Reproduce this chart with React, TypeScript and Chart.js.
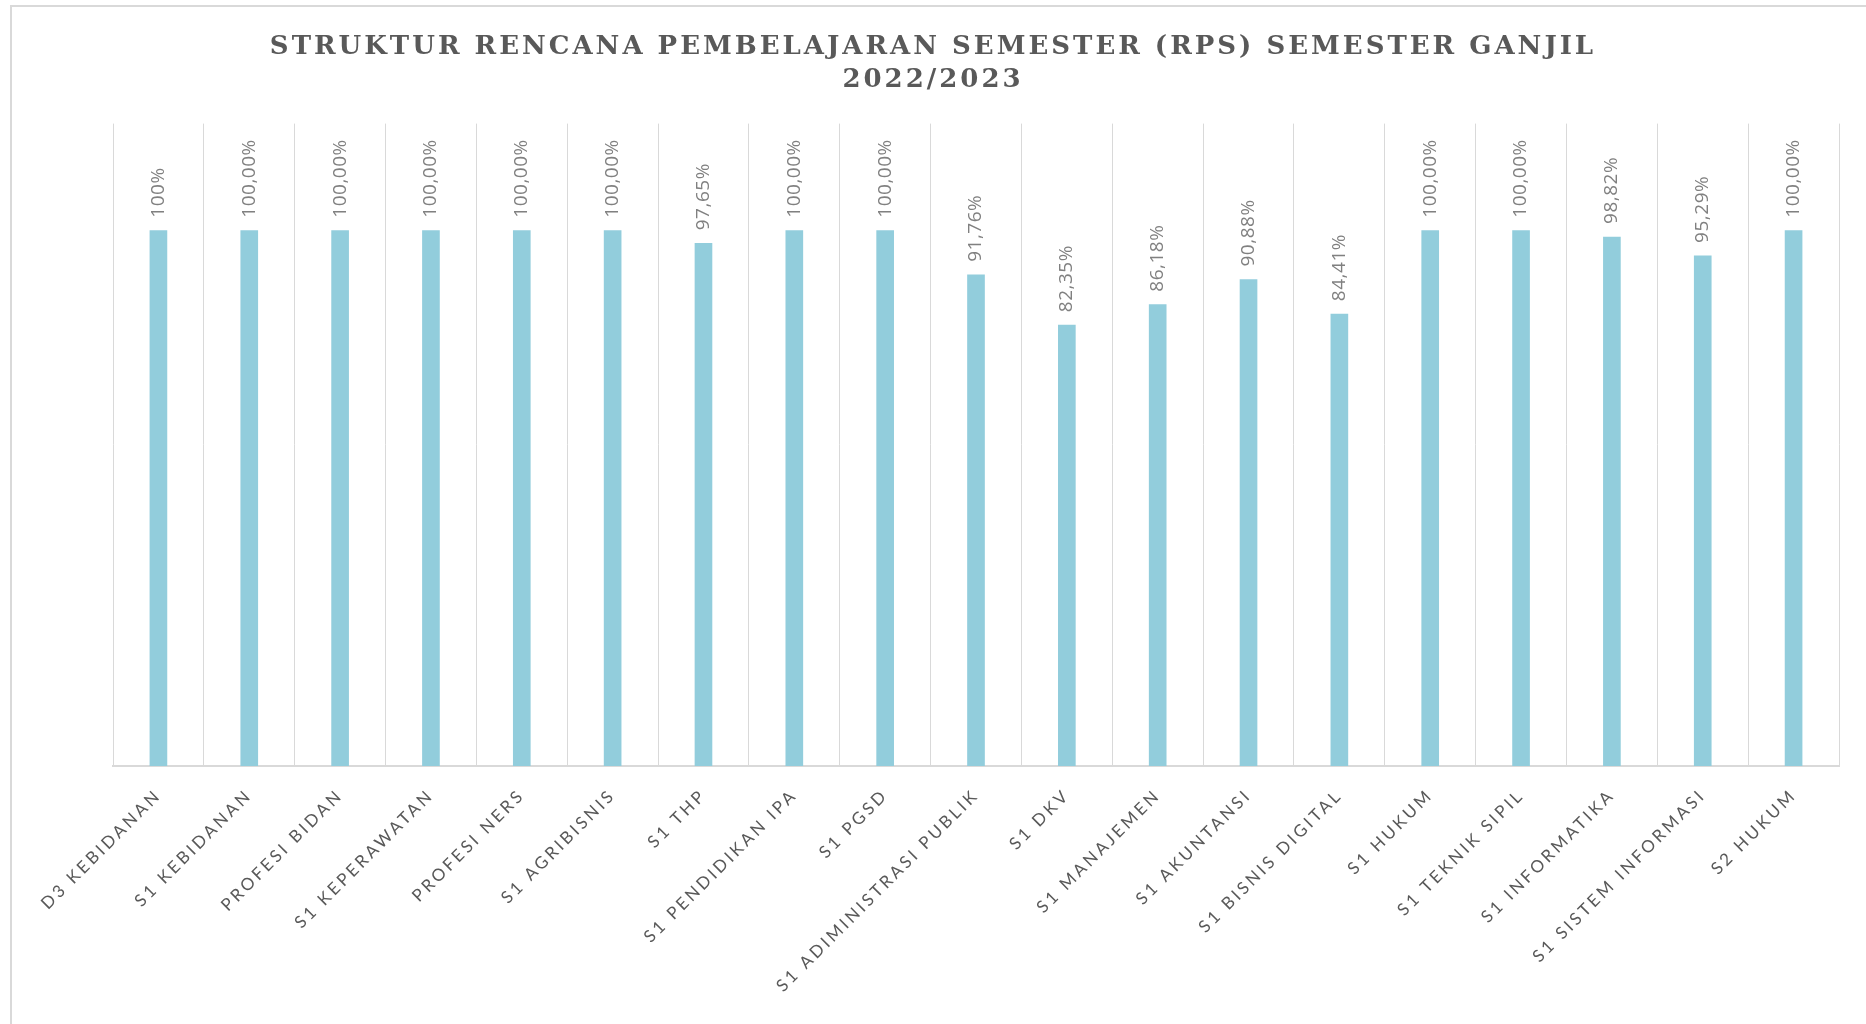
import React, { useEffect, useRef } from "react";
import { Chart, registerables } from "chart.js";

Chart.register(...registerables);

const titleLines = ["STRUKTUR RENCANA PEMBELAJARAN SEMESTER (RPS) SEMESTER GANJIL", "2022/2023"];

const categories = [
  "D3 KEBIDANAN",
  "S1 KEBIDANAN",
  "PROFESI BIDAN",
  "S1 KEPERAWATAN",
  "PROFESI NERS",
  "S1 AGRIBISNIS",
  "S1 THP",
  "S1 PENDIDIKAN IPA",
  "S1 PGSD",
  "S1 ADIMINISTRASI PUBLIK",
  "S1 DKV",
  "S1 MANAJEMEN",
  "S1 AKUNTANSI",
  "S1 BISNIS DIGITAL",
  "S1 HUKUM",
  "S1 TEKNIK SIPIL",
  "S1 INFORMATIKA",
  "S1 SISTEM INFORMASI",
  "S2 HUKUM",
];

const values = [100, 100, 100, 100, 100, 100, 97.65, 100, 100, 91.76, 82.35, 86.18, 90.88, 84.41, 100, 100, 98.82, 95.29, 100];

const valueLabels = [
  "100%",
  "100,00%",
  "100,00%",
  "100,00%",
  "100,00%",
  "100,00%",
  "97,65%",
  "100,00%",
  "100,00%",
  "91,76%",
  "82,35%",
  "86,18%",
  "90,88%",
  "84,41%",
  "100,00%",
  "100,00%",
  "98,82%",
  "95,29%",
  "100,00%",
];

const yMin = 0;
const yMax = 120;

export default function App() {
  const ref = useRef<HTMLCanvasElement>(null);

  useEffect(() => {
    let chart: Chart | null = null;
    let cancelled = false;
    const canvas = ref.current!;

    const spacingPlugin = {
      id: "spacingAndLabels",
      beforeDraw(c: any) {
        c.ctx.letterSpacing = "3px";
      },
      afterDatasetsDraw(c: any) {
        const ctx = c.ctx as any;
        ctx.save();
        ctx.letterSpacing = "0.5px";
        ctx.font = '19px "Open Sans"';
        ctx.fillStyle = "#808080";
        ctx.textAlign = "left";
        ctx.textBaseline = "middle";
        const meta = c.getDatasetMeta(0);
        meta.data.forEach((bar: any, i: number) => {
          ctx.save();
          ctx.translate(bar.x, bar.y - 13);
          ctx.rotate(-Math.PI / 2);
          ctx.fillText(valueLabels[i], 0, 0);
          ctx.restore();
        });
        ctx.restore();
        ctx.letterSpacing = "5.5px";
      },
      afterDraw(c: any) {
        c.ctx.letterSpacing = "0px";
      },
    };

    const make = () => {
      if (cancelled) return;
      chart = new Chart(canvas, {
        type: "bar",
        data: {
          labels: categories,
          datasets: [
            {
              data: values,
              backgroundColor: "#92cddc",
              barThickness: 17,
            },
          ],
        },
        options: {
          responsive: false,
          animation: false,
          devicePixelRatio: 1,
          layout: { padding: 0 },
          plugins: {
            legend: { display: false },
            tooltip: { enabled: false },
            title: {
              display: true,
              text: titleLines,
              color: "#595959",
              font: { family: '"DejaVu Serif"', size: 26, weight: "bold", lineHeight: 1.3 },
              padding: { top: 30, bottom: 26 },
            },
          },
          scales: {
            x: {
              z: 1,
              grid: { color: "#d9d9d9", lineWidth: 1, drawTicks: false, offset: true },
              border: { color: "#d9d9d9", width: 2 },
              ticks: {
                autoSkip: false,
                maxRotation: 45,
                minRotation: 45,
                padding: 19,
                color: "#595959",
                font: { family: "Lato", size: 17 },
              },
              afterFit: (s: any) => {
                s.height = 258;
              },
            },
            y: {
              display: true,
              min: yMin,
              max: yMax,
              ticks: { display: false },
              grid: { display: false },
              border: { display: false },
              afterFit: (s: any) => {
                s.width = 113;
              },
            },
            y2: {
              type: "linear",
              position: "right",
              display: true,
              ticks: { display: false },
              grid: { display: false },
              border: { display: false },
              afterFit: (s: any) => {
                s.width = 27;
              },
            },
          },
        } as any,
        plugins: [spacingPlugin],
      });
    };

    const loads = [
      'bold 26px "DejaVu Serif"',
      '17px "Lato"',
      '19px "Open Sans"',
    ].map((f) => (document as any).fonts.load(f).catch(() => null));
    Promise.all(loads).then(make, make);

    return () => {
      cancelled = true;
      if (chart) chart.destroy();
    };
  }, []);

  return (
    <div
      style={{
        position: "fixed",
        left: 0,
        top: 0,
        width: 1866,
        height: 1024,
        overflow: "hidden",
        background: "#ffffff",
      }}
    >
      <div
        style={{
          position: "absolute",
          left: 10,
          top: 5,
          width: 1900,
          height: 1100,
          borderLeft: "2px solid #d9d9d9",
          borderTop: "2px solid #d9d9d9",
        }}
      />
      <canvas
        ref={ref}
        width={1866}
        height={1024}
        style={{ position: "absolute", left: 0, top: 0, width: 1866, height: 1024 }}
      />
    </div>
  );
}
